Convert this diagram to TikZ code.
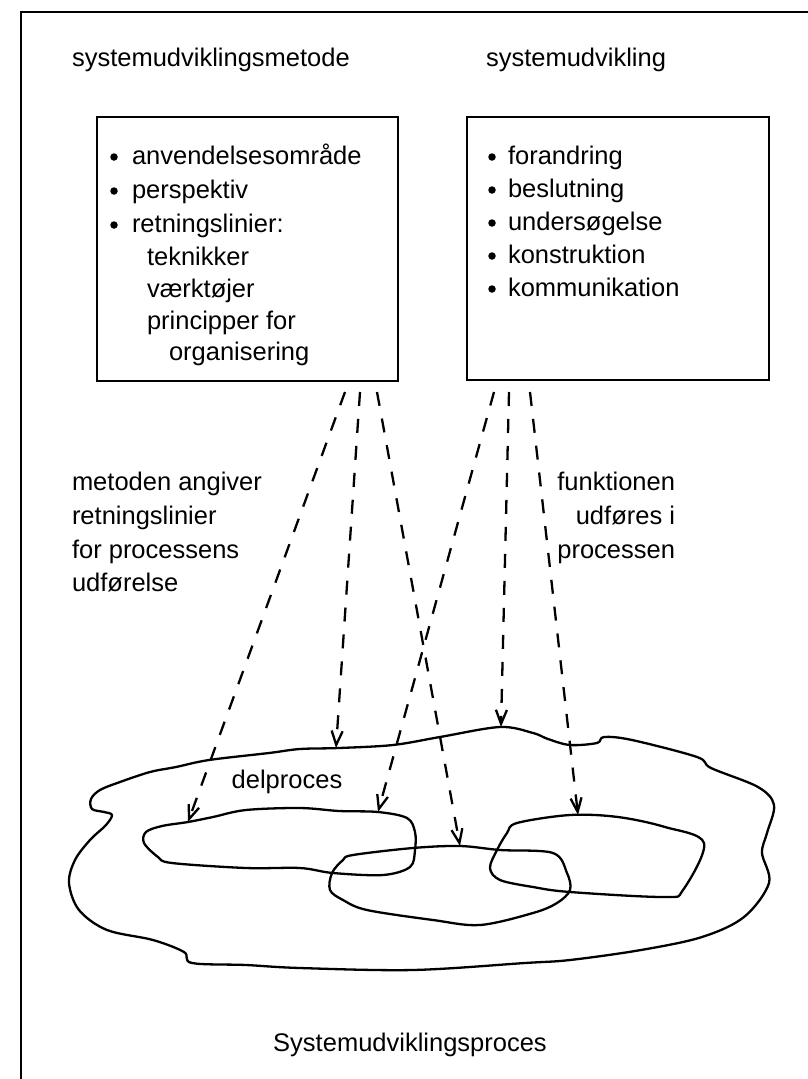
\documentclass[tikz,border=0pt]{standalone}
\usepackage{fontspec}
\setmainfont{Liberation Sans}
\usetikzlibrary{arrows.meta}

\tikzset{
  txt/.style={inner sep=0pt, outer sep=0pt, font=\fontsize{25.5}{31}\selectfont},
  line/.style={txt, anchor=base west},
  rline/.style={txt, anchor=base east},
  frameline/.style={line width=2.2pt},
  itembox/.style={draw, rectangle, line width=2.3pt, inner sep=0pt,
                   minimum width=301pt, minimum height=264pt},
  dot/.style={circle, fill, inner sep=0pt, minimum size=7.5pt},
  region/.style={line width=2.3pt, line join=round},
  guide/.style={line width=2.3pt, dash pattern=on 14pt off 13pt,
                -{Straight Barb[length=14pt,width=11pt]}}
}

\begin{document}
\begin{tikzpicture}[x=1pt,y=-1pt]
\useasboundingbox (0,0) rectangle (808,1079);

% outer frame (top and left edges)
\coordinate (ftl) at (21,12);
\coordinate (ftr) at (808,12);
\coordinate (fbl) at (21,1079);
\draw[frameline] (ftr) -- (ftl) -- (fbl);

% headings
\node[line] (hmethod) at (72,66) {systemudviklingsmetode};
\node[line] (hdev) at (486,66) {systemudvikling};

% method box
\node[itembox] (mbox) at (247.5,249) {};
\node[dot] (mb1) at (114,157) {};
\node[dot] (mb2) at (114,191) {};
\node[dot] (mb3) at (114,225) {};
\node[line] (m1) at (132,164) {anvendelsesområde};
\node[line] (m2) at (132,198) {perspektiv};
\node[line] (m3) at (132,232) {retningslinier:};
\node[line] (m4) at (147,265) {teknikker};
\node[line] (m5) at (147,297) {værktøjer};
\node[line] (m6) at (147,329) {principper for};
\node[line] (m7) at (169,360) {organisering};

% development box
\node[itembox, minimum width=302pt, minimum height=263pt] (dbox) at (618,248.5) {};
\node[dot] (db1) at (492,157) {};
\node[dot] (db2) at (492,190) {};
\node[dot] (db3) at (492,223) {};
\node[dot] (db4) at (492,256) {};
\node[dot] (db5) at (492,289) {};
\node[line] (d1) at (508,164) {forandring};
\node[line] (d2) at (508,197) {beslutning};
\node[line] (d3) at (508,230) {undersøgelse};
\node[line] (d4) at (508,263) {konstruktion};
\node[line] (d5) at (508,296) {kommunikation};

% side labels
\node[line] (ml1) at (72,490) {metoden angiver};
\node[line] (ml2) at (72,524) {retningslinier};
\node[line] (ml3) at (72,558) {for processens};
\node[line] (ml4) at (72,591) {udførelse};
\node[rline] (dl1) at (675,490) {funktionen};
\node[rline] (dl2) at (675,524) {udføres i};
\node[rline] (dl3) at (675,558) {processen};

% whole process
\draw[region] plot[smooth cycle, tension=0.55] coordinates {
  (120,782) (150,772) (176,767) (209,760) (269,753) (300,749) (339,748)
  (393,745) (440,737) (500,727) (533,733) (548,739) (570,745) (597,743)
  (604,737) (632,740) (697,757) (711,768) (758,787) (774,805) (767,833)
  (762,853) (769,883) (744,917) (702,937) (641,950) (570,960) (525,963)
  (413,970) (300,968) (246,965) (192,963) (184,952) (153,940) (107,930)
  (79,910) (69,883) (75,860) (90,840) (106,825) (112,815) (104,812)
  (92,809) (91,799) (100,790)};

% sub-processes
\draw[region] plot[smooth cycle, tension=0.55] coordinates {
  (188,822) (213,817) (246,810) (300,808) (339,811) (378,812) (407,818)
  (415,832) (415,850) (410,867) (383,875) (333,873) (300,868) (246,868)
  (172,863) (158,857) (144,843) (146,832) (162,826)};
\draw[region] plot[smooth cycle, tension=0.55] coordinates {
  (353,855) (413,848) (460,846) (500,850) (553,853) (567,873) (570,890)
  (557,903) (533,913) (480,925) (433,920) (367,910) (343,900) (330,890)
  (332,873) (343,860)};
\draw[region] plot[smooth cycle, tension=0.55] coordinates {
  (570,815) (618,817) (665,827) (704,843) (683,890) (665,897) (570,892)
  (533,887) (500,880) (490,868) (497,850) (507,833) (517,823)};

\node[txt] (sub) at (287,782) {delproces};
\node[txt] (proc) at (410,1045) {Systemudviklingsproces};

% arrow start points under the boxes
\coordinate (ms1) at (345,392);
\coordinate (ms2) at (360,392);
\coordinate (ms3) at (377,392);
\coordinate (ds1) at (494,392);
\coordinate (ds2) at (509,392);
\coordinate (ds3) at (530,392);
% arrow targets on the process outlines
\coordinate (ta1) at (188,822);
\coordinate (ta2) at (336,748);
\coordinate (ta3) at (460,846);
\coordinate (tb1) at (378,812);
\coordinate (tb2) at (501,727);
\coordinate (tb3) at (578,815);

\draw[guide] (ms1) -- (ta1);
\draw[guide] (ms2) -- (ta2);
\draw[guide] (ms3) -- (ta3);
\draw[guide] (ds1) -- (tb1);
\draw[guide] (ds2) -- (tb2);
\draw[guide] (ds3) -- (tb3);
\end{tikzpicture}
\end{document}
